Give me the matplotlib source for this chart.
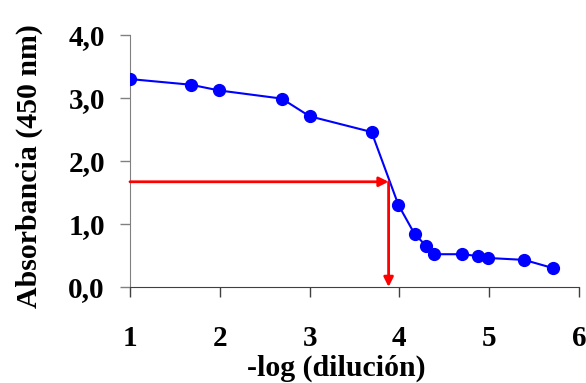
import matplotlib.pyplot as plt

# data
log_dil = [1.0, 1.68, 1.99, 2.69, 3.0, 3.69, 3.99, 4.17, 4.3, 4.39, 4.7, 4.88, 4.99, 5.39, 5.71]
absorb = [3.30, 3.21, 3.12, 2.99, 2.71, 2.46, 1.30, 0.84, 0.65, 0.52, 0.52, 0.49, 0.46, 0.43, 0.30]

# cut-off marked by the red arrows
cut_x = 3.88
cut_y = 1.67

x_ticks = [1, 2, 3, 4, 5, 6]
y_ticks = [0.0, 1.0, 2.0, 3.0, 4.0]
y_labels = ['0,0', '1,0', '2,0', '3,0', '4,0']

plt.rcParams['font.family'] = 'Liberation Serif'
plt.rcParams['font.weight'] = 'bold'

fig = plt.figure(figsize=(5.86, 3.83), dpi=100)
ax = fig.add_axes([0.2218, 0.2507, 0.7662, 0.658])

ax.plot(log_dil, absorb, color='#0000ff', lw=1.5, marker='o', ms=8.5, zorder=3)

# red arrows
arrow = dict(arrowstyle='-|>', color='#ff0000', lw=2, mutation_scale=14, shrinkA=0, shrinkB=0)
ax.annotate('', xy=(cut_x, cut_y), xytext=(1.0, cut_y), arrowprops=arrow)
ax.annotate('', xy=(cut_x, 0.0), xytext=(cut_x, cut_y), arrowprops=arrow)

ax.set_xlim(1, 6)
ax.set_ylim(0, 4)
ax.set_xticks(x_ticks)
ax.set_yticks(y_ticks)
ax.set_yticklabels(y_labels)

for s in ['top', 'right']:
    ax.spines[s].set_visible(False)
ax.spines['left'].set_color('#808080')
ax.spines['bottom'].set_color('#404040')
ax.tick_params(axis='y', direction='out', length=7, width=1, color='#808080', labelsize=21, pad=11)
ax.tick_params(axis='x', direction='out', length=7.2, width=1, color='#404040', labelsize=21, pad=20)

ax.set_xlabel('-log (dilución)', fontsize=21.5, fontweight='bold')
ax.set_ylabel('Absorbancia (450 nm)', fontsize=21.5, fontweight='bold')
ax.xaxis.set_label_coords(0.459, -0.268)
ax.yaxis.set_label_coords(-0.193, 0.478)

plt.savefig('out.png', dpi=100)
